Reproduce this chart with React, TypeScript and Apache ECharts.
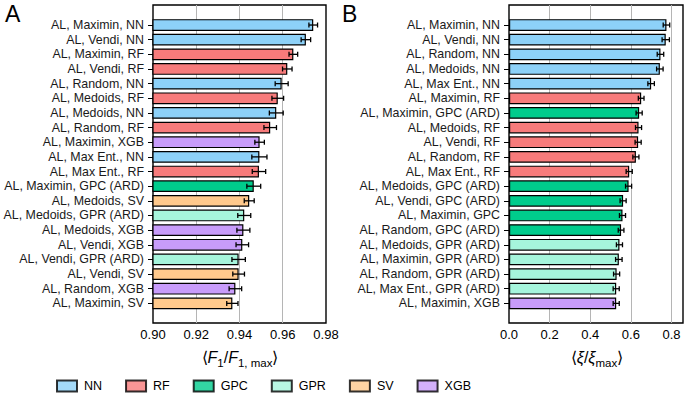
import React, { useEffect, useRef } from "react";
import * as echarts from "echarts";

const leftCategories = [
  "AL, Maximin, NN", "AL, Vendi, NN", "AL, Maximin, RF", "AL, Vendi, RF", "AL, Random, NN",
  "AL, Medoids, RF", "AL, Medoids, NN", "AL, Random, RF", "AL, Maximin, XGB", "AL, Max Ent., NN",
  "AL, Max Ent., RF", "AL, Maximin, GPC (ARD)", "AL, Medoids, SV", "AL, Medoids, GPR (ARD)", "AL, Medoids, XGB",
  "AL, Vendi, XGB", "AL, Vendi, GPR (ARD)", "AL, Vendi, SV", "AL, Random, XGB", "AL, Maximin, SV",
];
const leftValues = [
  0.9741, 0.9707, 0.9649, 0.9621, 0.9595, 0.9577, 0.957, 0.9542, 0.9493, 0.9492,
  0.949, 0.9466, 0.9445, 0.9422, 0.9418, 0.9413, 0.9396, 0.9396, 0.9381, 0.9367,
];
const leftErrors = [
  0.002, 0.0022, 0.002, 0.0022, 0.003, 0.0027, 0.0032, 0.0029, 0.0022, 0.0035,
  0.0031, 0.0032, 0.0023, 0.003, 0.003, 0.0029, 0.0031, 0.0027, 0.0029, 0.0026,
];

const rightCategories = [
  "AL, Maximin, NN", "AL, Vendi, NN", "AL, Random, NN", "AL, Medoids, NN", "AL, Max Ent., NN",
  "AL, Maximin, RF", "AL, Maximin, GPC (ARD)", "AL, Medoids, RF", "AL, Vendi, RF", "AL, Random, RF",
  "AL, Max Ent., RF", "AL, Medoids, GPC (ARD)", "AL, Vendi, GPC (ARD)", "AL, Maximin, GPC", "AL, Random, GPC (ARD)",
  "AL, Medoids, GPR (ARD)", "AL, Maximin, GPR (ARD)", "AL, Random, GPR (ARD)", "AL, Max Ent., GPR (ARD)", "AL, Maximin, XGB",
];
const rightValues = [
  0.7755, 0.772, 0.746, 0.743, 0.7, 0.651, 0.641, 0.638, 0.636, 0.625,
  0.592, 0.589, 0.562, 0.559, 0.552, 0.544, 0.541, 0.53, 0.528, 0.528,
];
const rightErrors = [
  0.016, 0.018, 0.016, 0.016, 0.016, 0.014, 0.015, 0.015, 0.015, 0.015,
  0.015, 0.015, 0.015, 0.015, 0.014, 0.015, 0.016, 0.015, 0.015, 0.015,
];

const models = ["NN", "RF", "GPC", "GPR", "SV", "XGB"];
const modelColors = ["#8DD1F8", "#F77B7B", "#00CC8C", "#A6F5DC", "#FFC98C", "#C89CFA"];

const leftTicks = [0.9, 0.92, 0.94, 0.96, 0.98];
const rightTicks = [0, 0.2, 0.4, 0.6, 0.8];

function colorOf(label: string): string {
  const parts = label.split(", ");
  const m = parts[parts.length - 1].replace(" (ARD)", "");
  return modelColors[models.indexOf(m)];
}

const FONT = "'Liberation Sans', Arial, sans-serif";

function errorRender(params: any, api: any) {
  const lo = api.coord([api.value(0), api.value(2)]);
  const hi = api.coord([api.value(1), api.value(2)]);
  const c = 2.5;
  const style = { stroke: "#000", lineWidth: 1.3 };
  return {
    type: "group",
    children: [
      { type: "line", shape: { x1: lo[0], y1: lo[1], x2: hi[0], y2: hi[1] }, style },
      { type: "line", shape: { x1: lo[0], y1: lo[1] - c, x2: lo[0], y2: lo[1] + c }, style },
      { type: "line", shape: { x1: hi[0], y1: hi[1] - c, x2: hi[0], y2: hi[1] + c }, style },
    ],
  };
}

export default function App() {
  const ref = useRef<HTMLDivElement>(null);
  useEffect(() => {
    document.body.style.margin = "0";
    const chart = echarts.init(ref.current!, null, { renderer: "svg" });

    const outerX = (gi: number, min: number, max: number, interval: number, digits: number, showMax: boolean) => ({
      type: "value",
      gridIndex: gi,
      min,
      max,
      interval,
      axisLine: { show: false },
      axisTick: { show: false },
      splitLine: { show: true, showMinLine: false, showMaxLine: false, lineStyle: { color: "#b5b5b5", width: 1 } },
      axisLabel: {
        fontSize: 13, color: "#000", fontFamily: FONT, margin: 5,
        showMaxLabel: showMax,
        formatter: (v: number) => v.toFixed(digits),
      },
    });
    const innerX = (gi: number, min: number, max: number) => ({
      type: "value", gridIndex: gi, min, max, show: false,
    });
    const catY = (gi: number, data: string[]) => ({
      type: "category",
      gridIndex: gi,
      data,
      inverse: true,
      axisLine: { show: false },
      axisTick: { show: true, length: 5, alignWithLabel: true, lineStyle: { color: "#000", width: 1 } },
      axisLabel: { interval: 0, fontSize: 12.4, color: "#1a1a1a", fontFamily: FONT, margin: 9 },
    });

    const mathRich = {
      n: { fontSize: 16, fontFamily: FONT, color: "#000", lineHeight: 20, verticalAlign: "middle" },
      i: { fontSize: 16, fontFamily: FONT, fontStyle: "italic", color: "#000", lineHeight: 20, verticalAlign: "middle" },
      s: { fontSize: 11.5, fontFamily: FONT, color: "#000", lineHeight: 13, verticalAlign: "bottom", padding: [0, 0, -2, 0] },
    };

    const option: any = {
      animation: false,
      grid: [
        { left: 153, top: 5, width: 173, height: 318, show: true, borderColor: "#000", borderWidth: 1.4, backgroundColor: "transparent" },
        { left: 153, top: 17.7, width: 173, height: 293 },
        { left: 509, top: 5, width: 174, height: 318, show: true, borderColor: "#000", borderWidth: 1.4, backgroundColor: "transparent" },
        { left: 509, top: 17.7, width: 174, height: 293 },
      ],
      xAxis: [
        outerX(0, leftTicks[0], leftTicks[leftTicks.length - 1], 0.02, 2, true),
        innerX(1, leftTicks[0], leftTicks[leftTicks.length - 1]),
        outerX(2, rightTicks[0], 0.857, 0.2, 1, false),
        innerX(3, rightTicks[0], 0.857),
      ],
      yAxis: [
        { type: "value", gridIndex: 0, show: false },
        catY(1, leftCategories),
        { type: "value", gridIndex: 2, show: false },
        catY(3, rightCategories),
      ],
      legend: {
        left: 56,
        top: 379.5,
        padding: 0,
        icon: "rect",
        itemWidth: 20,
        itemHeight: 11,
        itemGap: 23,
        textStyle: { fontSize: 12.5, color: "#000", fontFamily: FONT, padding: [0, 0, 0, 2] },
        data: models,
      },
      graphic: [
        { type: "text", left: 5, top: 2, style: { text: "A", fontSize: 23, fontFamily: FONT, fill: "#000" } },
        { type: "text", left: 342, top: 2, style: { text: "B", fontSize: 23, fontFamily: FONT, fill: "#000" } },
        {
          type: "text", x: 240, y: 357,
          style: {
            text: "{n|⟨}{i|F}{s|1}{n|/}{i|F}{s|1, max}{n|⟩}",
            rich: mathRich, align: "center", verticalAlign: "middle",
          },
        },
        {
          type: "text", x: 597, y: 357,
          style: {
            text: "{n|⟨}{i|ξ}{n|/}{i|ξ}{s|max}{n|⟩}",
            rich: mathRich, align: "center", verticalAlign: "middle",
          },
        },
      ],
      series: [
        {
          type: "bar", xAxisIndex: 1, yAxisIndex: 1, barWidth: "80%",
          itemStyle: { borderColor: "#000", borderWidth: 1.2 },
          data: leftValues.map((v, i) => ({ value: v, itemStyle: { color: colorOf(leftCategories[i]) } })),
        },
        {
          type: "custom", xAxisIndex: 1, yAxisIndex: 1, z: 5,
          renderItem: errorRender,
          encode: { x: [0, 1], y: 2 },
          data: leftValues.map((v, i) => [v - leftErrors[i], v + leftErrors[i], i]),
        },
        {
          type: "bar", xAxisIndex: 3, yAxisIndex: 3, barWidth: "80%",
          itemStyle: { borderColor: "#000", borderWidth: 1.2 },
          data: rightValues.map((v, i) => ({ value: v, itemStyle: { color: colorOf(rightCategories[i]) } })),
        },
        {
          type: "custom", xAxisIndex: 3, yAxisIndex: 3, z: 5,
          renderItem: errorRender,
          encode: { x: [0, 1], y: 2 },
          data: rightValues.map((v, i) => [v - rightErrors[i], v + rightErrors[i], i]),
        },
        ...models.map((m, k) => ({
          name: m, type: "scatter", xAxisIndex: 0, yAxisIndex: 0, data: [],
          itemStyle: { color: modelColors[k], borderColor: "#000", borderWidth: 1 },
        })),
      ],
    };
    chart.setOption(option);
    return () => chart.dispose();
  }, []);
  return <div ref={ref} style={{ width: 685, height: 393 }} />;
}
